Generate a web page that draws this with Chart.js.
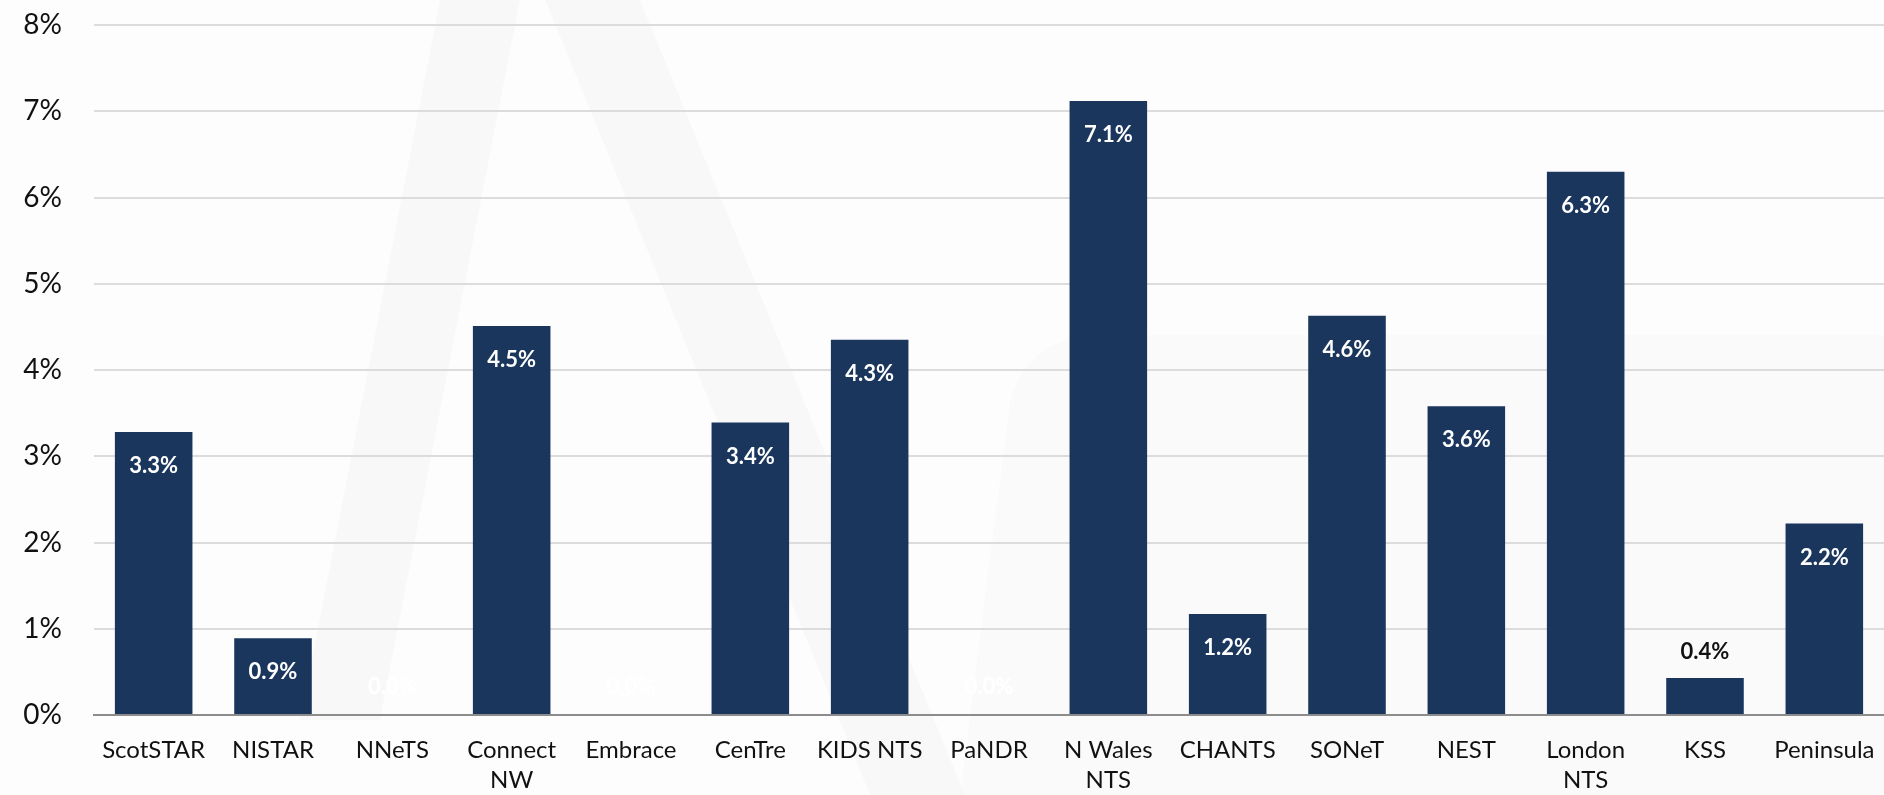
<!DOCTYPE html>
<html>
<head>
<meta charset="utf-8">
<script src="https://cdn.jsdelivr.net/npm/chart.js@4.4.1/dist/chart.umd.min.js"></script>
<style>
  html, body { margin: 0; padding: 0; background: #fdfdfd; }
  #wrap { width: 1884px; height: 795px; position: relative; }
</style>
</head>
<body>
<div id="wrap"><canvas id="chart" width="1884" height="795"></canvas></div>
<script>
// Chart data
const categories = [
    'ScotSTAR', 'NISTAR', 'NNeTS', ['Connect', 'NW'], 'Embrace', 'CenTre', 'KIDS NTS',
    'PaNDR', ['N Wales', 'NTS'], 'CHANTS', 'SONeT', 'NEST', ['London', 'NTS'], 'KSS', 'Peninsula'
];
const rates = [3.28, 0.89, 0, 4.51, 0, 3.39, 4.35, 0, 7.12, 1.17, 4.63, 3.58, 6.30, 0.43, 2.22];
const yTicks = [0, 1, 2, 3, 4, 5, 6, 7, 8];

const FONT = "Lato, 'Open Sans', sans-serif";

// faint logo watermark behind the plot
const watermark = {
    id: 'watermark',
    beforeDraw(chart) {
        const ctx = chart.ctx;
        ctx.save();
        ctx.fillStyle = 'rgba(0,0,0,0.018)';
        ctx.beginPath();
        ctx.moveTo(300, 720); ctx.lineTo(440, 0); ctx.lineTo(520, 0); ctx.lineTo(380, 720);
        ctx.closePath();
        ctx.fill();
        ctx.beginPath();
        ctx.moveTo(545, 0); ctx.lineTo(640, 0); ctx.lineTo(965, 795); ctx.lineTo(870, 795);
        ctx.closePath();
        ctx.fill();
        ctx.beginPath();
        ctx.moveTo(960, 795); ctx.lineTo(1010, 400);
        ctx.quadraticCurveTo(1030, 335, 1100, 335);
        ctx.lineTo(1884, 335); ctx.lineTo(1884, 795);
        ctx.closePath();
        ctx.fillStyle = 'rgba(0,0,0,0.012)';
        ctx.fill();
        ctx.restore();
    }
};

// draws the value labels (inside top of bar, or above when the bar is short)
const valueLabels = {
    id: 'valueLabels',
    afterDatasetsDraw(chart) {
        const ctx = chart.ctx;
        const meta = chart.getDatasetMeta(0);
        ctx.save();
        ctx.font = 'bold 22px ' + FONT;
        ctx.textAlign = 'center';
        ctx.textBaseline = 'middle';
        meta.data.forEach((bar, i) => {
            const v = rates[i];
            const text = v.toFixed(1) + '%';
            const barH = bar.base - bar.y;
            if (v === 0) {
                ctx.fillStyle = '#ffffff';
                ctx.fillText(text, bar.x, bar.base - 28);
            } else if (barH < 50) {
                ctx.fillStyle = '#111111';
                ctx.fillText(text, bar.x, bar.y - 26);
            } else {
                ctx.fillStyle = '#ffffff';
                ctx.fillText(text, bar.x, bar.y + 34);
            }
        });
        ctx.restore();
    }
};

const ctx = document.getElementById('chart').getContext('2d');
new Chart(ctx, {
    type: 'bar',
    data: {
        labels: categories,
        datasets: [{
            data: rates,
            backgroundColor: '#1a365d',
            borderWidth: 0,
            barPercentage: 0.65,
            categoryPercentage: 1.0
        }]
    },
    options: {
        responsive: false,
        animation: false,
        layout: { padding: { top: 25, right: 0, left: 0, bottom: 0 } },
        plugins: {
            legend: { display: false },
            tooltip: { enabled: false }
        },
        scales: {
            y: {
                min: 0,
                max: 8,
                afterFit(scale) {
                    scale.width = 94;
                    scale.paddingTop = 0;
                    scale.paddingBottom = 0;
                },
                afterBuildTicks(scale) { scale.ticks = yTicks.map(v => ({ value: v })); },
                border: { display: false },
                grid: {
                    color: (c) => c.tick.value === 0 ? 'rgba(0,0,0,0)' : '#dcdcdc',
                    lineWidth: 2,
                    drawTicks: false
                },
                ticks: {
                    padding: 32,
                    color: '#111',
                    font: { family: FONT, size: 28 },
                    callback: (v) => v + '%'
                }
            },
            x: {
                afterFit(scale) {
                    scale.height = 80;
                    scale.paddingLeft = 0;
                    scale.paddingRight = 0;
                },
                border: { display: true, color: '#8c8c8c', width: 2 },
                grid: { display: false },
                ticks: {
                    padding: 12,
                    color: '#111',
                    maxRotation: 0,
                    autoSkip: false,
                    font: { family: FONT, size: 24, lineHeight: 1.25 }
                }
            }
        }
    },
    plugins: [watermark, valueLabels]
});
</script>
</body>
</html>
